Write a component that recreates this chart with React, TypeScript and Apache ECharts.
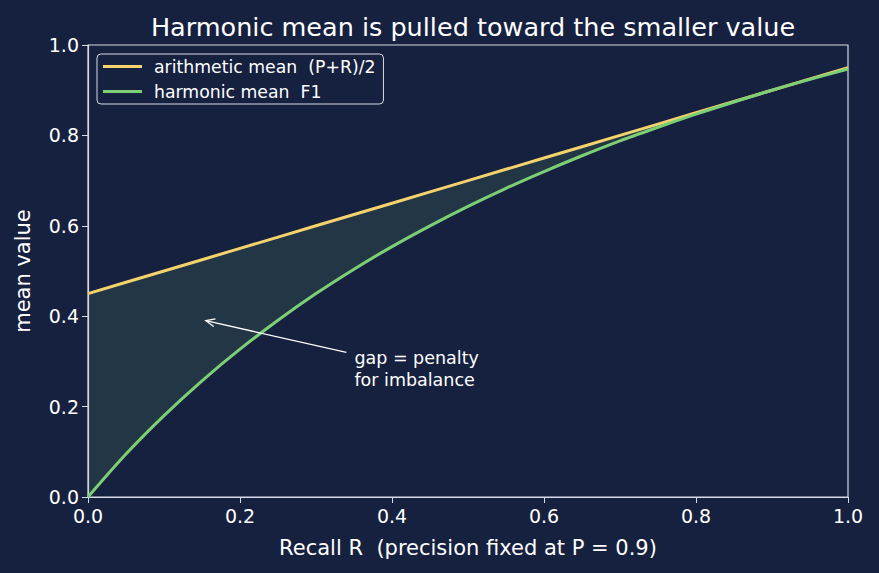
import React, { useEffect, useRef } from "react";
import * as echarts from "echarts";

// Recall values along the x axis (precision held at 0.9)
const recall = [0, 0.05, 0.1, 0.15, 0.2, 0.25, 0.3, 0.35, 0.4, 0.45, 0.5, 0.55, 0.6, 0.65, 0.7, 0.75, 0.8, 0.85, 0.9, 0.95, 1.0];
// Arithmetic mean (P+R)/2
const arithmetic = [0.45, 0.475, 0.5, 0.525, 0.55, 0.575, 0.6, 0.625, 0.65, 0.675, 0.7, 0.725, 0.75, 0.775, 0.8, 0.825, 0.85, 0.875, 0.9, 0.925, 0.95];
// Harmonic mean (F1)
const harmonic = [0, 0.095, 0.18, 0.257, 0.327, 0.391, 0.45, 0.504, 0.554, 0.6, 0.643, 0.683, 0.72, 0.755, 0.788, 0.818, 0.847, 0.874, 0.9, 0.924, 0.947];
const xTicks = [0, 0.2, 0.4, 0.6, 0.8, 1.0];
const yTicks = [0, 0.2, 0.4, 0.6, 0.8, 1.0];
// Annotation: text anchor (tail) and arrow tip, in data units
const noteTail = [0.34, 0.32];
const noteTip = [0.155, 0.39];
const noteText = ["gap = penalty", "for imbalance"];

const BG = "#16203f";
const FG = "#ffffff";
const SPINE = "#d6dae6";
const YELLOW = "#f5d36c";
const GREEN = "#7ccf74";
const FONT = "DejaVu Sans";

export default function App() {
  const ref = useRef<HTMLDivElement>(null);

  useEffect(() => {
    document.body.style.margin = "0";
    document.body.style.background = BG;
    const chart = echarts.init(ref.current!, null, { renderer: "svg" });

    const pairs = (ys: number[]) => recall.map((r, i) => [r, ys[i]]);

    chart.setOption({
      animation: false,
      backgroundColor: BG,
      textStyle: { fontFamily: FONT },
      title: {
        text: "Harmonic mean is pulled toward the smaller value",
        left: 468,
        textAlign: "center",
        top: 9,
        textStyle: { color: FG, fontFamily: FONT, fontSize: 25.5, fontWeight: "normal" },
      },
      grid: {
        left: 88,
        top: 45,
        width: 760,
        height: 452,
        show: true,
        borderColor: SPINE,
        borderWidth: 1.2,
        backgroundColor: "transparent",
      },
      legend: {
        data: ["arithmetic mean  (P+R)/2", "harmonic mean  F1"],
        orient: "vertical",
        left: 97,
        top: 54,
        itemWidth: 39,
        itemHeight: 3,
        itemGap: 8,
        icon: "rect",
        padding: [4, 8, 4, 6],
        borderColor: SPINE,
        borderWidth: 1,
        borderRadius: 4,
        backgroundColor: BG,
        textStyle: { color: FG, fontSize: 17.3, fontFamily: FONT, padding: [0, 0, 0, 7] },
      },
      xAxis: {
        type: "value",
        min: 0,
        max: 1,
        interval: 0.2,
        name: "Recall R  (precision fixed at P = 0.9)",
        nameLocation: "middle",
        nameGap: 40,
        nameTextStyle: { color: FG, fontSize: 21, fontFamily: FONT },
        axisLine: { show: true, lineStyle: { color: SPINE, width: 1.2 } },
        axisTick: { show: true, length: 6, lineStyle: { color: SPINE } },
        axisLabel: {
          color: FG,
          fontSize: 19,
          margin: 9,
          fontFamily: FONT,
          formatter: (v: number) => (xTicks.includes(v) ? v.toFixed(1) : ""),
        },
        splitLine: { show: false },
      },
      yAxis: {
        type: "value",
        min: 0,
        max: 1,
        interval: 0.2,
        name: "mean value",
        nameLocation: "middle",
        nameGap: 55,
        nameTextStyle: { color: FG, fontSize: 21, fontFamily: FONT },
        axisLine: { show: true, lineStyle: { color: SPINE, width: 1.2 } },
        axisTick: { show: true, length: 6, lineStyle: { color: SPINE } },
        axisLabel: {
          color: FG,
          fontSize: 19,
          margin: 9,
          fontFamily: FONT,
          formatter: (v: number) => (yTicks.includes(v) ? v.toFixed(1) : ""),
        },
        splitLine: { show: false },
      },
      series: [
        {
          // shaded gap between the two means
          name: "gap",
          type: "custom",
          silent: true,
          z: 1,
          data: recall.map((r, i) => [r, arithmetic[i], harmonic[i]]),
          renderItem: (params: any, api: any) => {
            if (params.dataIndex !== 0) return null;
            const upper = recall.map((r, i) => api.coord([r, arithmetic[i]]));
            const lower = recall.map((r, i) => api.coord([r, harmonic[i]])).reverse();
            return {
              type: "polygon",
              shape: { points: upper.concat(lower) },
              style: { fill: GREEN, opacity: 0.13 },
            };
          },
        },
        {
          name: "arithmetic mean  (P+R)/2",
          type: "line",
          data: pairs(arithmetic),
          showSymbol: false,
          color: YELLOW,
          lineStyle: { color: YELLOW, width: 3 },
          z: 3,
        },
        {
          name: "harmonic mean  F1",
          type: "line",
          data: pairs(harmonic),
          smooth: 0.3,
          showSymbol: false,
          color: GREEN,
          lineStyle: { color: GREEN, width: 3 },
          z: 4,
        },
        {
          name: "note",
          type: "custom",
          silent: true,
          z: 5,
          data: [[noteTail[0], noteTail[1], noteTip[0], noteTip[1]]],
          renderItem: (_params: any, api: any) => {
            const tail = api.coord([api.value(0), api.value(1)]);
            const tip = api.coord([api.value(2), api.value(3)]);
            const dx = tip[0] - tail[0];
            const dy = tip[1] - tail[1];
            const len = Math.sqrt(dx * dx + dy * dy);
            const ux = dx / len;
            const uy = dy / len;
            const hl = 9;
            const hw = 4;
            const bx = tip[0] - ux * hl;
            const by = tip[1] - uy * hl;
            return {
              type: "group",
              children: [
                {
                  type: "line",
                  shape: { x1: tail[0], y1: tail[1], x2: tip[0], y2: tip[1] },
                  style: { stroke: FG, lineWidth: 1.3 },
                },
                {
                  type: "polyline",
                  shape: {
                    points: [
                      [bx - uy * hw, by + ux * hw],
                      [tip[0], tip[1]],
                      [bx + uy * hw, by - ux * hw],
                    ],
                  },
                  style: { stroke: FG, lineWidth: 1.3, fill: "none" },
                },
                {
                  type: "text",
                  style: {
                    text: noteText.join("\n"),
                    x: tail[0] + 8,
                    y: tail[1] - 5,
                    fill: FG,
                    font: `17.5px "${FONT}"`,
                    lineHeight: 22,
                    textAlign: "left",
                    textVerticalAlign: "top",
                  },
                },
              ],
            };
          },
        },
      ],
    });

    return () => chart.dispose();
  }, []);

  return (
    <div
      ref={ref}
      style={{ position: "fixed", left: 0, top: 0, width: 879, height: 573 }}
    />
  );
}
